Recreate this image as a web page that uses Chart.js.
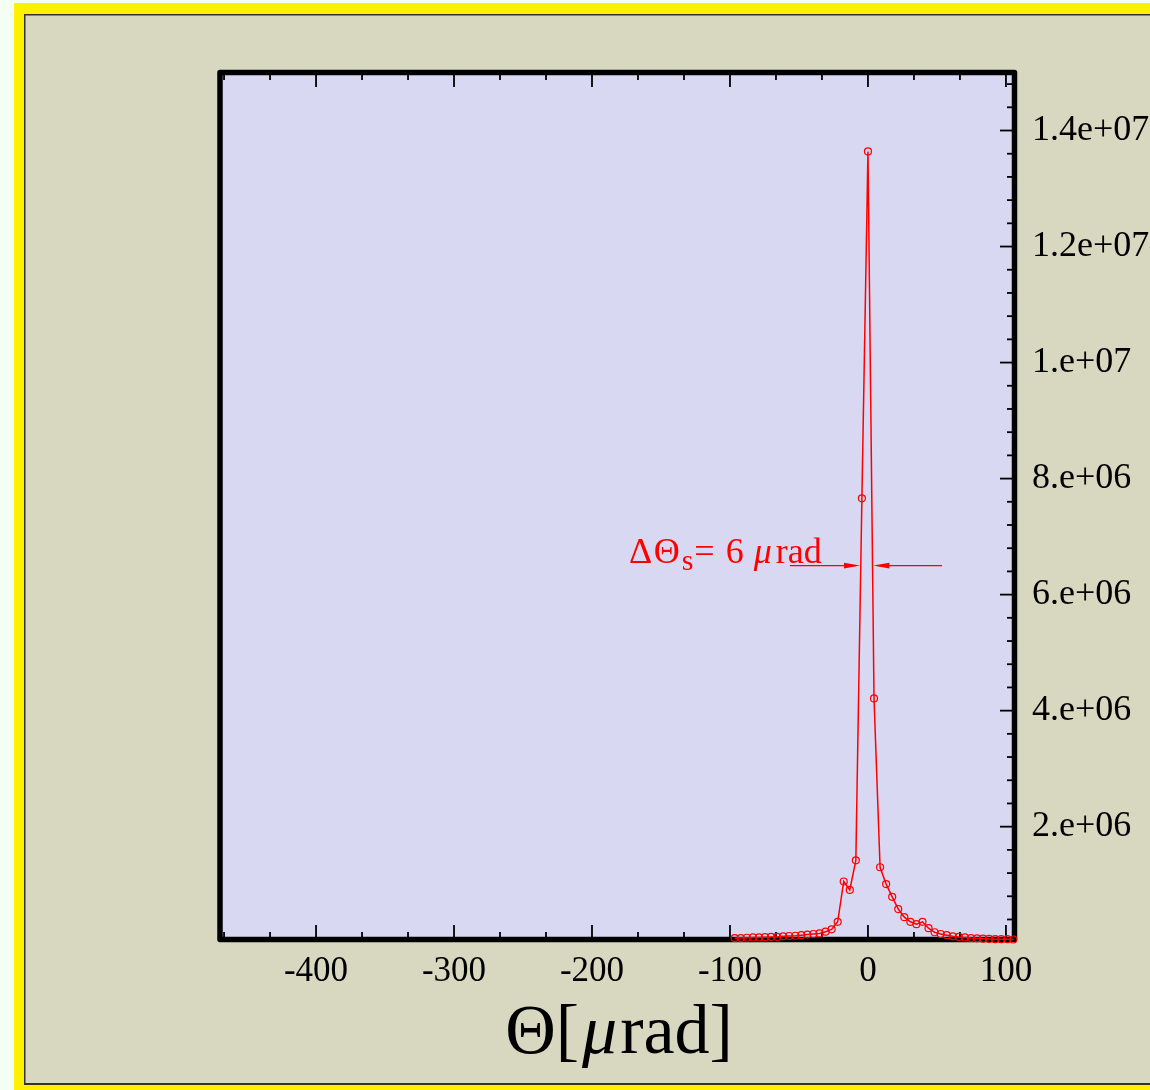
<!DOCTYPE html>
<html>
<head>
<meta charset="utf-8">
<title>Angular distribution</title>
<script src="https://cdn.jsdelivr.net/npm/chart.js@4.4.1/dist/chart.umd.min.js"></script>
<style>
  html, body { margin: 0; padding: 0; background: #f4fff4; }
  canvas { display: block; }
</style>
</head>
<body>
<canvas id="chart" width="1150" height="1090"></canvas>
<script>
// Scattering angle samples [µrad]
const thetaMicroRad = [
  -96.58, -92.19, -87.80, -83.41, -79.02, -74.63, -70.24, -65.85, -61.46, -57.07,
  -52.68, -48.29, -43.90, -39.51, -35.12, -30.73, -26.34, -21.95, -17.56, -13.17,
  -8.78, -4.39, 0.00, 4.39, 8.78, 13.17, 17.56, 21.95, 26.34, 30.73,
  35.12, 39.51, 43.90, 48.29, 52.68, 57.07, 61.46, 65.85, 70.24, 74.63,
  79.02, 83.41, 87.80, 92.19, 96.58, 100.97, 105.36
];

// Intensity at each angle
const intensity = [
  0.080e6, 0.080e6, 0.085e6, 0.090e6, 0.090e6, 0.095e6, 0.100e6, 0.100e6, 0.110e6, 0.115e6,
  0.120e6, 0.130e6, 0.140e6, 0.150e6, 0.160e6, 0.190e6, 0.230e6, 0.360e6, 1.055e6, 0.910e6,
  1.420e6, 7.660e6, 13.640e6, 4.210e6, 1.300e6, 1.010e6, 0.790e6, 0.580e6, 0.440e6, 0.360e6,
  0.320e6, 0.360e6, 0.250e6, 0.180e6, 0.150e6, 0.130e6, 0.110e6, 0.100e6, 0.090e6, 0.080e6,
  0.075e6, 0.070e6, 0.065e6, 0.060e6, 0.060e6, 0.060e6, 0.055e6
];

// Axis ticks and their labels
const xTickValues = [-400, -300, -200, -100, 0, 100];
const xTickLabels = ['-400', '-300', '-200', '-100', '0', '100'];
const yTickValues = [2e6, 4e6, 6e6, 8e6, 10e6, 12e6, 14e6];
const yTickLabels = ['2.e+06', '4.e+06', '6.e+06', '8.e+06', '1.e+07', '1.2e+07', '1.4e+07'];

// Width marker: level of the arrows and where their tails start [µrad]
const widthLevel = 6.5e6;
const widthArrowTails = [-56.6, 53.7];
const widthText = ['Δ', 'Θ', 's', '=', '6', 'μ', 'rad'];
const axisTitle = { pre: 'Θ[', mu: 'μ', post: 'rad]' };

const SERIF = '"Liberation Serif", "Times New Roman", serif';
const RED = '#ff0000';

// Page framing: yellow border, dark rule, beige panel, lavender plot area
const backdrop = {
  id: 'backdrop',
  beforeDraw(chart) {
    const { ctx, width, height, chartArea: a } = chart;
    ctx.save();
    ctx.fillStyle = '#f4fff4';
    ctx.fillRect(0, 0, width, height);
    ctx.fillStyle = '#fff000';
    ctx.fillRect(14, 3, width - 14, height - 3);
    ctx.fillStyle = '#33332a';
    ctx.fillRect(24, 14, width - 24, 1071);
    ctx.fillStyle = '#d8d8c0';
    ctx.fillRect(25.5, 15.5, width - 25.5, 1067.5);
    ctx.fillStyle = '#d8d8f3';
    ctx.fillRect(a.left, a.top, a.right - a.left, a.bottom - a.top);
    ctx.restore();
  }
};

// Heavy frame with inward-pointing ticks on bottom, top and right
const frame = {
  id: 'frame',
  beforeDatasetsDraw(chart) {
    const { ctx, chartArea: a, scales: { x, y } } = chart;
    ctx.save();
    ctx.strokeStyle = '#000';
    ctx.lineCap = 'butt';
    ctx.lineWidth = 1.8;
    const majorLen = 14.5, minorLen = 7.5;
    const seg = (x1, y1, x2, y2) => { ctx.beginPath(); ctx.moveTo(x1, y1); ctx.lineTo(x2, y2); ctx.stroke(); };

    // x ticks: majors every 100, minors every 100/3
    for (let i = -15; i <= 4; i++) {
      const v = i * 100 / 3;
      if (v < x.min || v > x.max) continue;
      const px = x.getPixelForValue(v);
      const len = (i % 3 === 0) ? majorLen : minorLen;
      seg(px, a.bottom, px, a.bottom - len);
      seg(px, a.top, px, a.top + len);
    }
    // y ticks on the right: majors every 2e6, minors every 0.4e6
    for (let i = 1; i <= 37; i++) {
      const v = i * 0.4e6;
      if (v < y.min || v > y.max) continue;
      const py = y.getPixelForValue(v);
      const len = (i % 5 === 0) ? majorLen : minorLen;
      seg(a.right, py, a.right - len, py);
    }

    ctx.lineWidth = 5.5;
    ctx.lineJoin = 'round';
    ctx.strokeRect(a.left, a.top, a.right - a.left, a.bottom - a.top);
    ctx.restore();
  }
};

// Width arrows, width label and the x-axis title
const annotations = {
  id: 'annotations',
  afterDatasetsDraw(chart) {
    const { ctx, scales: { x, y } } = chart;
    ctx.save();

    // where the curve crosses the arrow level on each side of the peak
    let peak = 0;
    intensity.forEach((v, i) => { if (v > intensity[peak]) peak = i; });
    const crossing = (i, j) => {
      const t = (widthLevel - intensity[i]) / (intensity[j] - intensity[i]);
      return thetaMicroRad[i] + t * (thetaMicroRad[j] - thetaMicroRad[i]);
    };
    let li = peak - 1; while (li > 0 && intensity[li] > widthLevel) li--;
    let ri = peak + 1; while (ri < intensity.length - 1 && intensity[ri] > widthLevel) ri++;
    const leftX = x.getPixelForValue(crossing(li, li + 1)) - 0.8;
    const rightX = x.getPixelForValue(crossing(ri - 1, ri)) + 0.8;
    const py = y.getPixelForValue(widthLevel);

    const arrow = (fromX, tipX) => {
      const dir = Math.sign(tipX - fromX);
      ctx.strokeStyle = RED;
      ctx.fillStyle = RED;
      ctx.lineWidth = 1.2;
      ctx.beginPath(); ctx.moveTo(fromX, py); ctx.lineTo(tipX - dir * 4, py); ctx.stroke();
      ctx.beginPath();
      ctx.moveTo(tipX, py);
      ctx.lineTo(tipX - dir * 16, py - 2.8);
      ctx.lineTo(tipX - dir * 16, py + 2.8);
      ctx.closePath(); ctx.fill();
    };
    arrow(x.getPixelForValue(widthArrowTails[0]), leftX);
    arrow(x.getPixelForValue(widthArrowTails[1]), rightX);

    // ΔΘs= 6 µrad
    ctx.fillStyle = RED;
    ctx.textBaseline = 'alphabetic';
    ctx.textAlign = 'left';
    const base = 563;
    const fN = '36px ' + SERIF, fS = '30px ' + SERIF, fI = 'italic 36px ' + SERIF;
    // [text, font, baseline shift, gap after]
    const parts = [
      [widthText[0], fN, 0, 1.5],
      [widthText[1], fN, 0, 2],
      [widthText[2], fS, 7, 1],
      [widthText[3], fN, 0, 11],
      [widthText[4], fN, 0, 10],
      [widthText[5], fI, 0, 4],
      [widthText[6], fN, 0, 0]
    ];
    let tx = 629;
    parts.forEach(([t, f, dy, gap]) => {
      ctx.font = f;
      ctx.fillText(t, tx, base + dy);
      tx += ctx.measureText(t).width + gap;
    });

    // Θ[µrad]
    ctx.fillStyle = '#000';
    const tfont = '70px ' + SERIF, tfontI = 'italic 70px ' + SERIF;
    ctx.font = tfont;
    const w1 = ctx.measureText(axisTitle.pre).width, w3 = ctx.measureText(axisTitle.post).width;
    ctx.font = tfontI;
    const w2 = ctx.measureText(axisTitle.mu).width;
    let ax = 619 - (w1 + w2 + w3 + 6) / 2;
    const ab = 1053;
    ctx.font = tfont; ctx.fillText(axisTitle.pre, ax, ab); ax += w1 + 3;
    ctx.font = tfontI; ctx.fillText(axisTitle.mu, ax, ab); ax += w2 + 3;
    ctx.font = tfont; ctx.fillText(axisTitle.post, ax, ab);
    ctx.restore();
  }
};

new Chart(document.getElementById('chart'), {
  type: 'line',
  data: {
    datasets: [{
      data: thetaMicroRad.map((t, i) => ({ x: t, y: intensity[i] })),
      borderColor: RED,
      borderWidth: 1.5,
      pointStyle: 'circle',
      pointRadius: 3.5,
      pointBorderWidth: 1.2,
      pointBorderColor: RED,
      pointBackgroundColor: 'rgba(0,0,0,0)',
      tension: 0,
      fill: false,
      clip: false
    }]
  },
  options: {
    responsive: false,
    devicePixelRatio: 1,
    animation: false,
    events: [],
    layout: { padding: { left: 220, top: 72.5, right: 0, bottom: 0 } },
    plugins: { legend: { display: false }, tooltip: { enabled: false } },
    scales: {
      x: {
        type: 'linear',
        position: 'bottom',
        min: -469.6,
        max: 106.2,
        afterBuildTicks(scale) { scale.ticks = xTickValues.map(v => ({ value: v })); },
        afterFit(scale) { scale.height = 150.5; },
        grid: { display: false, drawTicks: false },
        border: { display: false },
        ticks: {
          padding: 11,
          color: '#000',
          font: { family: SERIF, size: 35 },
          maxRotation: 0,
          autoSkip: false,
          callback: (v) => { const i = xTickValues.indexOf(v); return i >= 0 ? xTickLabels[i] : ''; }
        }
      },
      y: {
        type: 'linear',
        position: 'right',
        min: 0.055e6,
        max: 15.0e6,
        afterBuildTicks(scale) { scale.ticks = yTickValues.map(v => ({ value: v })); },
        afterFit(scale) { scale.width = 135.5; },
        grid: { display: false, drawTicks: false },
        border: { display: false },
        ticks: {
          padding: 17.5,
          color: '#000',
          font: { family: SERIF, size: 36 },
          autoSkip: false,
          callback: (v) => { const i = yTickValues.indexOf(v); return i >= 0 ? yTickLabels[i] : ''; }
        }
      }
    }
  },
  plugins: [backdrop, frame, annotations]
});
</script>
</body>
</html>
